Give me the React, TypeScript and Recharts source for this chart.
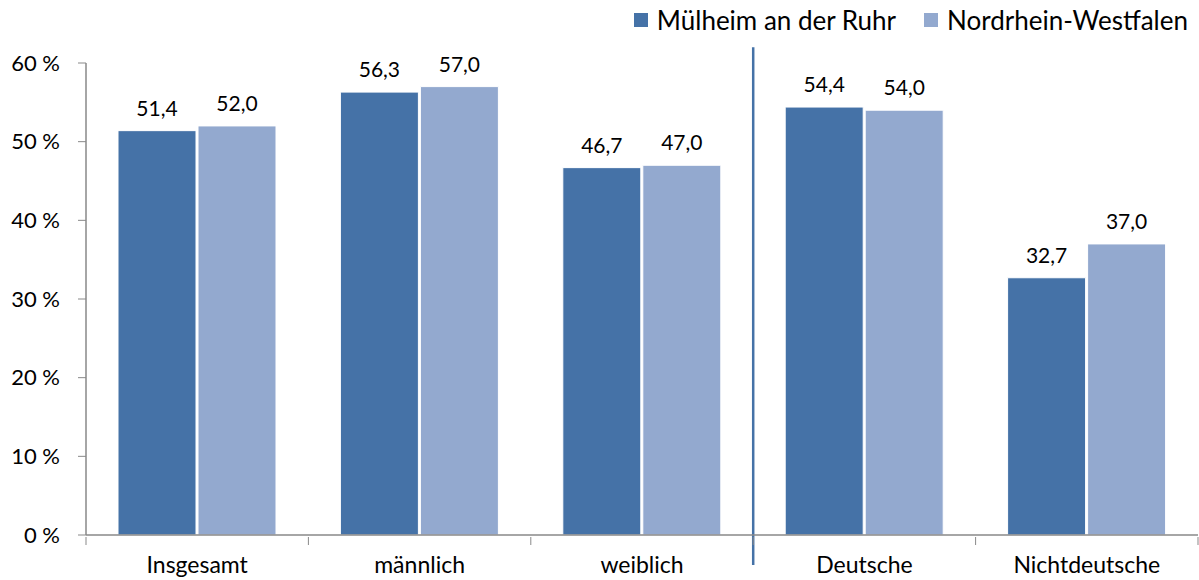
import React from "react"
import {
  BarChart,
  Bar,
  XAxis,
  YAxis,
  LabelList,
  ReferenceLine,
} from "recharts"

const categories = ["Insgesamt", "männlich", "weiblich", "Deutsche", "Nichtdeutsche"]
const muelheim = [51.4, 56.3, 46.7, 54.4, 32.7]
const nrw = [52.0, 57.0, 47.0, 54.0, 37.0]
const yTicks = [0, 10, 20, 30, 40, 50, 60]

const seriesNames = ["Mülheim an der Ruhr", "Nordrhein-Westfalen"]
const colors = ["#4572A7", "#93A9CF"]

const WIDTH = 1199
const HEIGHT = 580
const AXIS_W = 86
const RIGHT = 1
const FONT = "Lato, 'Open Sans', sans-serif"
const AXIS_COLOR = "#898989"

const chartData = categories.map((c, i) => ({
  name: c,
  muelheim: muelheim[i],
  nrw: nrw[i],
}))

const fmt = (v: number) => v.toFixed(1).replace(".", ",")

// category width, used to put the x tick marks on the band edges
const bandW = (WIDTH - AXIS_W - RIGHT) / categories.length

function CategoryTick(props: any) {
  const { x, y, payload, index } = props
  const left = x - bandW / 2
  return (
    <g>
      <line x1={left} y1={y - 6} x2={left} y2={y + 2} stroke={AXIS_COLOR} />
      {index === categories.length - 1 && (
        <line x1={left + bandW} y1={y - 6} x2={left + bandW} y2={y + 2} stroke={AXIS_COLOR} />
      )}
      <text x={x} y={y + 30} textAnchor="middle" fontSize={23} fontFamily={FONT} fill="#000">
        {payload.value}
      </text>
    </g>
  )
}

function LegendBox() {
  return (
    <div
      style={{
        position: "absolute",
        top: 4,
        right: 11,
        display: "flex",
        alignItems: "center",
        fontFamily: FONT,
        fontSize: 26,
        color: "#000",
      }}
    >
      {seriesNames.map((n, i) => (
        <div key={n} style={{ display: "flex", alignItems: "center", marginLeft: i ? 28 : 0 }}>
          <span
            style={{
              display: "inline-block",
              width: 14,
              height: 14,
              background: colors[i],
              marginRight: 9,
            }}
          />
          {n}
        </div>
      ))}
    </div>
  )
}

export default function App() {
  return (
    <div style={{ position: "absolute", left: 0, top: 0, width: WIDTH, height: HEIGHT, background: "#fff" }}>
      <LegendBox />
      <BarChart
        width={WIDTH}
        height={HEIGHT}
        data={chartData}
        margin={{ top: 63, right: RIGHT, bottom: 0, left: 0 }}
        barSize={78}
        barGap={2}
      >
        <XAxis
          dataKey="name"
          tickLine={false}
          axisLine={{ stroke: AXIS_COLOR, strokeWidth: 1.5 }}
          tick={<CategoryTick />}
          interval={0}
          height={45}
        />
        <YAxis
          domain={[0, 60]}
          ticks={yTicks}
          width={AXIS_W}
          tickFormatter={(v) => `${v} %`}
          axisLine={{ stroke: AXIS_COLOR, strokeWidth: 1.5 }}
          tickLine={{ stroke: AXIS_COLOR }}
          tickSize={8}
          tickMargin={18}
          tick={{ fontSize: 22, fill: "#000", fontFamily: FONT }}
        />
        <Bar dataKey="muelheim" fill={colors[0]} stroke="#ffffff" strokeWidth={1} isAnimationActive={false}>
          <LabelList
            dataKey="muelheim"
            position="top"
            offset={15}
            formatter={(v: any) => fmt(Number(v))}
            style={{ fontSize: 21, fill: "#000", fontFamily: FONT }}
          />
        </Bar>
        <Bar dataKey="nrw" fill={colors[1]} stroke="#ffffff" strokeWidth={1} isAnimationActive={false}>
          <LabelList
            dataKey="nrw"
            position="top"
            offset={15}
            formatter={(v: any) => fmt(Number(v))}
            style={{ fontSize: 21, fill: "#000", fontFamily: FONT }}
          />
        </Bar>
        <ReferenceLine
          segment={[
            { x: "Deutsche", y: -3.8 },
            { x: "Deutsche", y: 62 },
          ]}
          position="start"
          ifOverflow="visible"
          stroke={colors[0]}
          strokeWidth={2.5}
        />
      </BarChart>
    </div>
  )
}
